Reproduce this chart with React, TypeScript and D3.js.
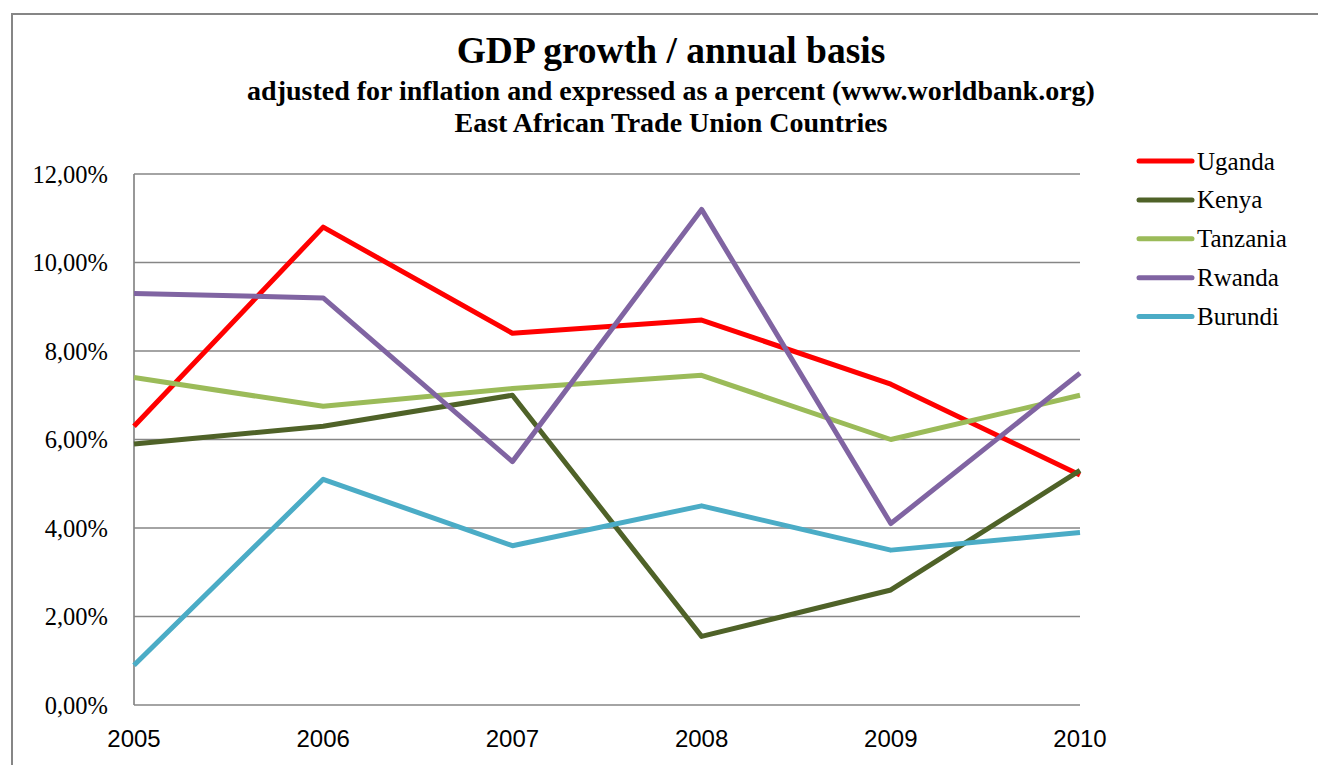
import React from "react";
import * as d3 from "d3";

const years = ["2005", "2006", "2007", "2008", "2009", "2010"];
const uganda = [6.3, 10.8, 8.4, 8.7, 7.25, 5.2];
const kenya = [5.9, 6.3, 7.0, 1.55, 2.6, 5.3];
const tanzania = [7.4, 6.75, 7.15, 7.45, 6.0, 7.0];
const rwanda = [9.3, 9.2, 5.5, 11.2, 4.1, 7.5];
const burundi = [0.9, 5.1, 3.6, 4.5, 3.5, 3.9];
const seriesNames = ["Uganda", "Kenya", "Tanzania", "Rwanda", "Burundi"];
const seriesColors = ["#FF0000", "#4F6228", "#9BBB59", "#8064A2", "#4BACC6"];
const yTicks = [0, 2, 4, 6, 8, 10, 12];

const W = 1318;
const H = 765;
const plot = { left: 134, right: 1080, top: 174, bottom: 705 };

export default function App() {
  const data = [uganda, kenya, tanzania, rwanda, burundi];
  const x = d3.scalePoint<string>().domain(years).range([plot.left, plot.right]);
  const y = d3.scaleLinear().domain([0, 12]).range([plot.bottom, plot.top]);
  const line = d3
    .line<number>()
    .x((_, i) => x(years[i]) as number)
    .y((d) => y(d));
  const fmt = (v: number) => v.toFixed(2).replace(".", ",") + "%";
  const serif = "'Liberation Serif', 'Times New Roman', serif";
  const sans = "'Liberation Sans', Arial, sans-serif";
  const grid = "#868686";

  return (
    <div style={{ position: "absolute", left: 0, top: 0 }}>
      <svg width={W} height={H} style={{ display: "block", background: "#fff" }}>
        <rect x={12} y={14} width={1320} height={800} fill="#fff" stroke={grid} strokeWidth={2} />
        <text x={671} y={63} textAnchor="middle" fontFamily={serif} fontWeight="bold" fontSize={37.5}>
          GDP growth / annual basis
        </text>
        <text x={671} y={100} textAnchor="middle" fontFamily={serif} fontWeight="bold" fontSize={28}>
          adjusted for inflation and expressed as a percent (www.worldbank.org)
        </text>
        <text x={671} y={132} textAnchor="middle" fontFamily={serif} fontWeight="bold" fontSize={28}>
          East African Trade Union Countries
        </text>
        {yTicks.map((t) => (
          <g key={t}>
            <line x1={plot.left} x2={plot.right} y1={y(t)} y2={y(t)} stroke={grid} strokeWidth={1.7} />
            <text x={108} y={y(t) + 8.5} textAnchor="end" fontFamily={serif} fontSize={24.5}>
              {fmt(t)}
            </text>
          </g>
        ))}
        <line x1={plot.left} x2={plot.left} y1={plot.top} y2={plot.bottom} stroke={grid} strokeWidth={1.7} />
        {years.map((yr) => (
          <text key={yr} x={x(yr)} y={747} textAnchor="middle" fontFamily={sans} fontSize={24}>
            {yr}
          </text>
        ))}
        {data.map((s, i) => (
          <path
            key={seriesNames[i]}
            d={line(s) || ""}
            fill="none"
            stroke={seriesColors[i]}
            strokeWidth={5}
            strokeLinejoin="round"
            strokeLinecap="butt"
          />
        ))}
        {seriesNames.map((n, i) => (
          <g key={n} transform={`translate(0, ${161 + i * 38.9})`}>
            <line x1={1139} x2={1192} y1={0} y2={0} stroke={seriesColors[i]} strokeWidth={5} strokeLinecap="round" />
            <text x={1197} y={8.5} fontFamily={serif} fontSize={25}>
              {n}
            </text>
          </g>
        ))}
      </svg>
    </div>
  );
}
